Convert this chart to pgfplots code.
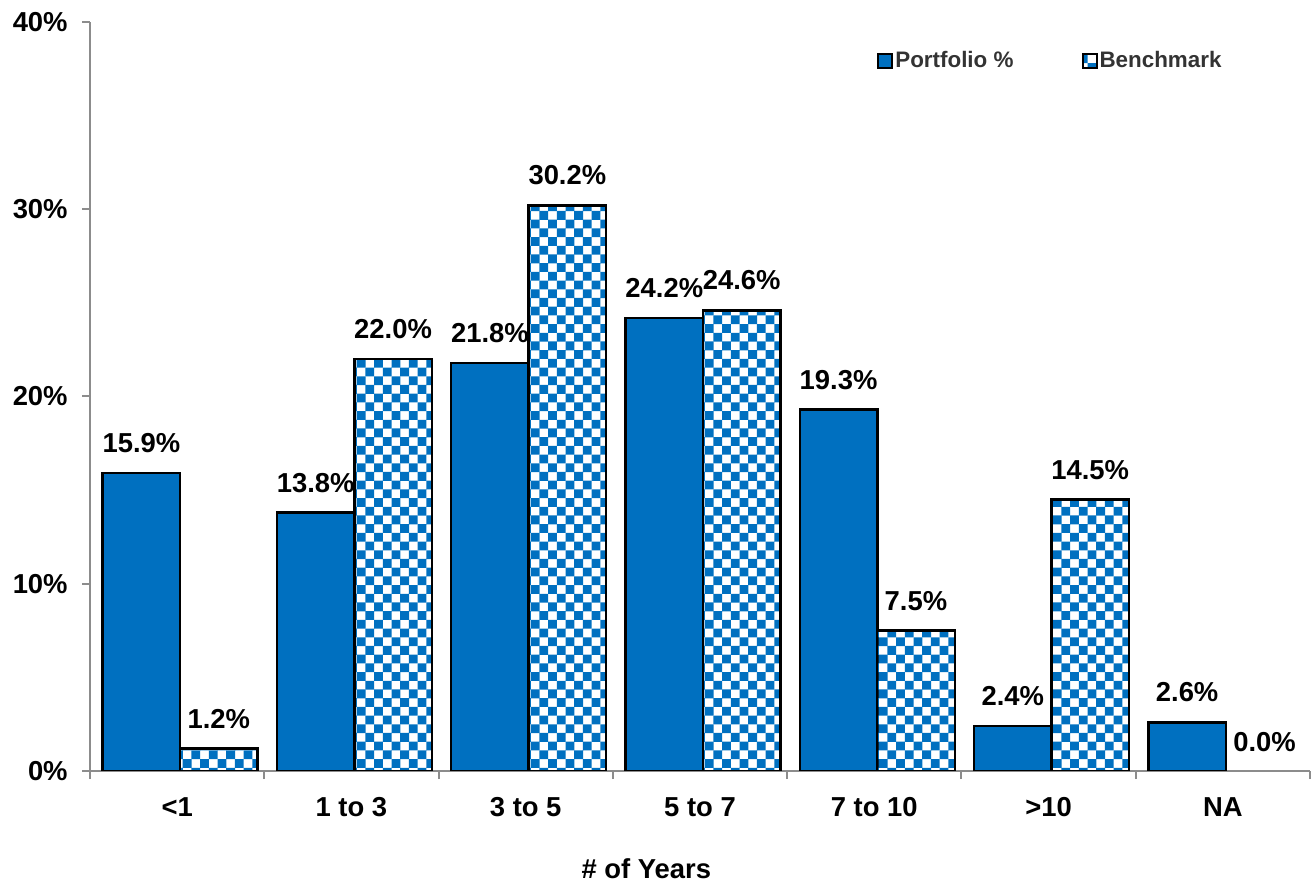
\documentclass[border=0pt]{standalone}
\usepackage{fontspec}
\setmainfont{Liberation Sans}
\usepackage{pgfplots}
\pgfplotsset{compat=1.18}
\usetikzlibrary{patterns}
\definecolor{pblue}{HTML}{0070C0}
\definecolor{axisgray}{HTML}{8C8C8C}
\definecolor{legendgray}{HTML}{333333}
\pgfdeclarepatternformonly{bchecker}{\pgfqpoint{-0.1bp}{-0.1bp}}{\pgfqpoint{8.8bp}{8.8bp}}{\pgfqpoint{8.7bp}{8.7bp}}{%
  \pgfpathrectangle{\pgfpointorigin}{\pgfqpoint{4.4bp}{4.4bp}}%
  \pgfpathrectangle{\pgfqpoint{4.35bp}{4.35bp}}{\pgfqpoint{4.4bp}{4.4bp}}%
  \pgfusepath{fill}}
\newcommand{\bigf}{\fontsize{13.7bp}{16bp}\selectfont\bfseries}
\begin{document}
\begin{tikzpicture}
\useasboundingbox (0,0) rectangle (656bp,440.5bp);
\begin{axis}[
  at={(45bp,55bp)}, anchor=south west,
  scale only axis, width=610bp, height=374.5bp,
  xmin=-0.5, xmax=6.5, ymin=0, ymax=40,
  axis x line*=bottom, axis y line*=left,
  axis line style={draw=axisgray, line width=1bp},
  tick align=outside,
  major tick length=4bp,
  tick style={draw=axisgray, line width=1bp},
  ybar, bar width=0.445,
  xtick={-0.5,0.5,1.5,2.5,3.5,4.5,5.5,6.5},
  xticklabels={{<1},{1 to 3},{3 to 5},{5 to 7},{7 to 10},{>10},{NA},{}},
  x tick label style={font=\bigf, xshift=43.57bp, anchor=base, inner sep=0pt, yshift=-18.5bp},
  ytick={0,10,20,30,40},
  yticklabels={0\%,10\%,20\%,30\%,40\%},
  y tick label style={font=\bigf, anchor=east, inner sep=0pt, xshift=-7bp},
  xlabel={\# of Years},
  xlabel style={at={(axis description cs:0.456,-0.1429)}, anchor=base, font=\bigf, inner sep=0pt},
  /pgf/number format/assume math mode=true,
  nodes near coords={\pgfmathprintnumber[fixed,fixed zerofill,precision=1]{\pgfplotspointmeta}\%},
  every node near coord/.append style={font=\bigf, anchor=south, inner sep=0pt, yshift=9.5bp, text=black},
  legend style={at={(0.645,0.948)}, anchor=west, draw=none, fill=none,
    font=\fontsize{11.2bp}{13bp}\selectfont\bfseries, text=legendgray,
    legend columns=2, inner sep=0pt,
    nodes={inner sep=1bp},
    /tikz/every even column/.append style={column sep=33bp}},
]
\addplot[fill=pblue, draw=black, line width=1.2bp, bar shift=-0.205,
  legend image code/.code={\draw[fill=pblue, draw=black, line width=1bp] (0bp,-3.5bp) rectangle (7bp,3.5bp);}]
  coordinates {(0,15.9) (1,13.8) (2,21.8) (3,24.2) (4,19.3) (5,2.4) (6,2.6)};
\addlegendentry{Portfolio \%}
\addplot[pattern=bchecker, pattern color=pblue, draw=black, line width=1.2bp, bar shift=0.239,
  legend image code/.code={\draw[pattern=bchecker, pattern color=pblue, draw=black, line width=1bp] (0bp,-3.5bp) rectangle (7bp,3.5bp);}]
  coordinates {(0,1.2) (1,22.0) (2,30.2) (3,24.6) (4,7.5) (5,14.5)};
\addlegendentry{Benchmark}
\addplot[draw=none, fill=none, bar shift=0.239, forget plot]
  coordinates {(6,0.0)};
\end{axis}
\end{tikzpicture}
\end{document}
